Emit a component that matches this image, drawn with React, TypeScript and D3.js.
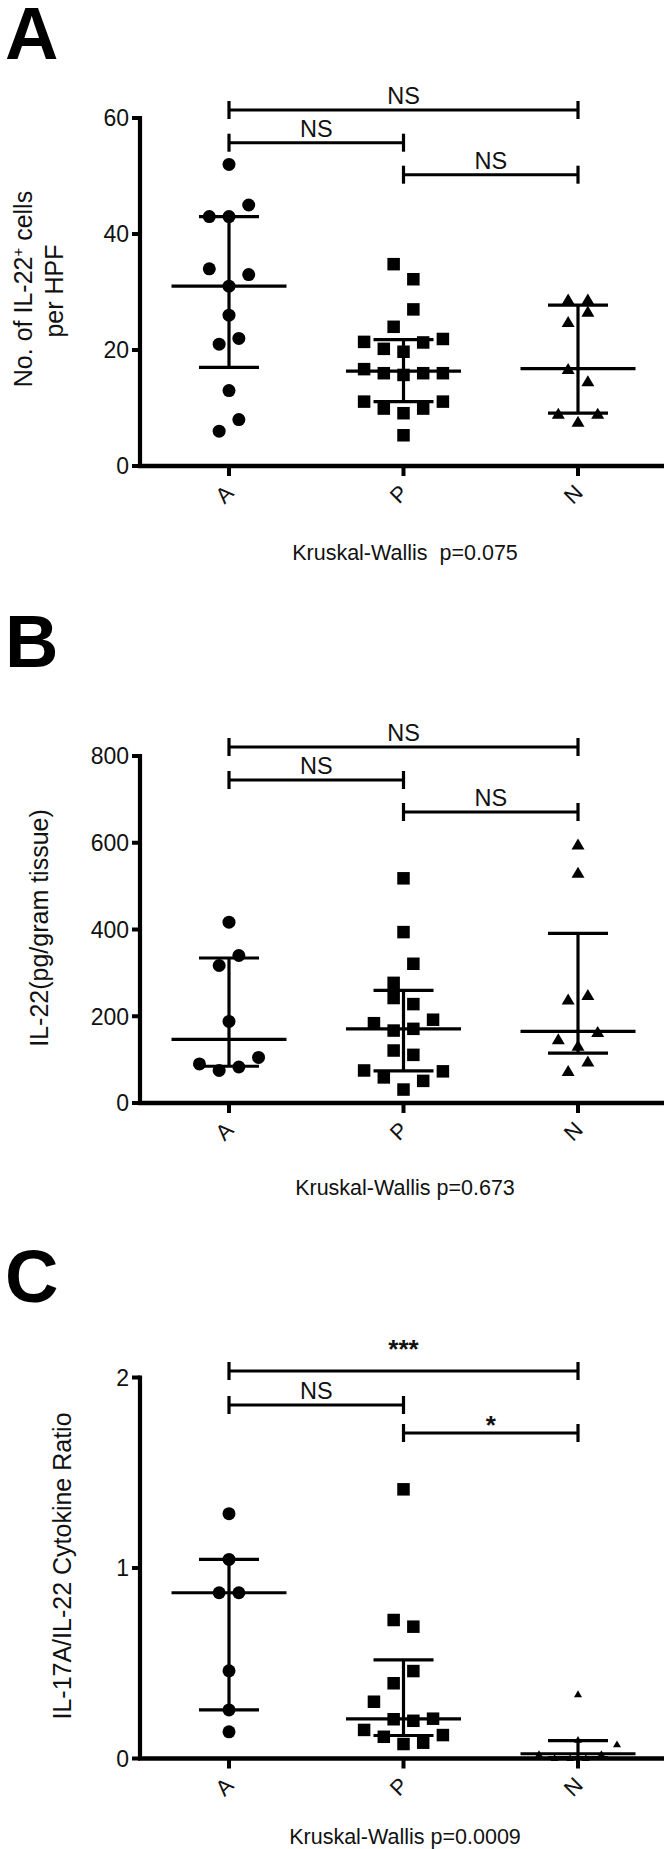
import React from 'react';
import * as d3 from 'd3';

const FONT = '"Liberation Sans", Arial, Helvetica, sans-serif';

const categories = ['A', 'P', 'N'];

// ---------- Panel A : No. of IL-22+ cells per HPF ----------
const aTicks = [0, 20, 40, 60];
const aValuesA = [6, 8, 13, 21, 22, 26, 34, 31, 33, 43, 43, 45, 52];
const aValuesP = [5.3, 11.1, 9.9, 9.1, 9.9, 11.1, 16.7, 16.0, 15.7, 16.0, 16.0, 21.4, 20.2, 19.7, 21.3, 21.9, 24.0, 27.0, 34.8, 32.2];
const aValuesN = [9.1, 7.7, 9.1, 16.8, 14.7, 24.9, 26.7, 28.8, 28.8];
const aComparisons = [
  { from: 'A', to: 'N', label: 'NS' },
  { from: 'A', to: 'P', label: 'NS' },
  { from: 'P', to: 'N', label: 'NS' },
];
const aTest = 'Kruskal-Wallis  p=0.075';

// ---------- Panel B : IL-22 (pg/gram tissue) ----------
const bTicks = [0, 200, 400, 600, 800];
const bValuesA = [90, 75, 83, 105, 188, 317, 340, 417];
const bValuesP = [75, 59, 31, 51, 73, 121, 111, 184, 167, 171, 192, 242, 228, 277, 321, 394, 518];
const bValuesN = [75, 97, 148, 133, 165, 240, 250, 532, 597];
const bComparisons = [
  { from: 'A', to: 'N', label: 'NS' },
  { from: 'A', to: 'P', label: 'NS' },
  { from: 'P', to: 'N', label: 'NS' },
];
const bTest = 'Kruskal-Wallis p=0.673';

// ---------- Panel C : IL-17A/IL-22 ratio ----------
const cTicks = [0, 1, 2];
const cValuesA = [0.14, 0.255, 0.46, 0.87, 0.87, 1.045, 1.285];
const cValuesP = [0.15, 0.114, 0.076, 0.083, 0.123, 0.298, 0.206, 0.198, 0.209, 0.395, 0.459, 0.727, 0.692, 1.413];
const cValuesN = [0.025, 0.005, 0.005, 0.005, 0.025, 0.077, 0.1, 0.34];
const cComparisons = [
  { from: 'A', to: 'N', label: '***' },
  { from: 'A', to: 'P', label: 'NS' },
  { from: 'P', to: 'N', label: '*' },
];
const cTest = 'Kruskal-Wallis p=0.0009';

type Shape = 'circle' | 'square' | 'triangle';
interface Group { cat: string; values: number[]; shape: Shape; size: number; step: number; }

// GraphPad-style percentile: position (n+1)p
function quantileGP(values: number[], p: number) {
  const s = [...values].sort((a, b) => a - b);
  const n = s.length;
  const pos = (n + 1) * p;
  const lo = Math.floor(pos);
  const hi = Math.ceil(pos);
  if (lo < 1) return s[0];
  if (hi > n) return s[n - 1];
  return s[lo - 1] + (pos - lo) * (s[hi - 1] - s[lo - 1]);
}

// Row-based scatter spreading: points within a row (threshold in pixels) are spread horizontally
function swarmOffsets(values: number[], y: (v: number) => number, step: number, thresh: number) {
  const idx = values.map((_, i) => i).sort((a, b) => values[a] - values[b] || a - b);
  const rows: number[][] = [];
  let cur: number[] | null = null;
  let startPx = 0;
  for (const i of idx) {
    const py = y(values[i]);
    if (cur && Math.abs(startPx - py) <= thresh) cur.push(i);
    else {
      cur = [i];
      rows.push(cur);
      startPx = py;
    }
  }
  const offsets = new Array(values.length).fill(0);
  rows.forEach((r) => {
    r.sort((a, b) => a - b);
    r.forEach((i, k) => {
      offsets[i] = (k - (r.length - 1) / 2) * step;
    });
  });
  return offsets;
}

function Marker({ shape, cx, cy, size }: { shape: Shape; cx: number; cy: number; size: number }) {
  if (shape === 'circle') return <circle cx={cx} cy={cy} r={size / 2} fill="#000" />;
  if (shape === 'square') return <rect x={cx - size / 2} y={cy - size / 2} width={size} height={size} fill="#000" />;
  const w = size;
  const h = size * 0.85;
  return <path d={`M${cx},${cy - h / 2}L${cx + w / 2},${cy + h / 2}L${cx - w / 2},${cy + h / 2}Z`} fill="#000" />;
}

interface PanelProps {
  letter: string;
  letterY: number;
  yMax: number;
  yTop: number;
  yBottom: number;
  ticks: number[];
  groups: Group[];
  comparisons: { from: string; to: string; label: string }[];
  bracketYs: number[];
  title: React.ReactNode;
  testText: string;
  testY: number;
}

const AXIS_X = 140;
const AXIS_RIGHT = 664;

function Panel(p: PanelProps) {
  const x = d3.scalePoint<string>().domain(categories).range([229, 578]);
  const y = d3.scaleLinear().domain([0, p.yMax]).range([p.yBottom, p.yTop]);
  const lw = 3.2;
  return (
    <g>
      <text x={5} y={p.letterY} fontFamily={FONT} fontWeight="bold" fontSize={74} fill="#000">
        {p.letter}
      </text>
      {p.title}
      {/* y axis */}
      <line x1={AXIS_X} x2={AXIS_X} y1={p.yTop - 2} y2={p.yBottom} stroke="#000" strokeWidth={4.2} />
      {p.ticks.map((t) => (
        <g key={t}>
          <line x1={AXIS_X - 8} x2={AXIS_X} y1={y(t)} y2={y(t)} stroke="#000" strokeWidth={4} />
          <text x={129} y={y(t)} dy="0.36em" textAnchor="end" fontFamily={FONT} fontSize={23} fill="#111">
            {t}
          </text>
        </g>
      ))}
      {/* x axis */}
      <line x1={AXIS_X - 2} x2={AXIS_RIGHT} y1={p.yBottom} y2={p.yBottom} stroke="#000" strokeWidth={4.5} />
      {categories.map((c) => (
        <g key={c}>
          <line x1={x(c)!} x2={x(c)!} y1={p.yBottom} y2={p.yBottom + 10} stroke="#000" strokeWidth={4} />
          <text
            transform={`translate(${x(c)! - 5},${p.yBottom + 28}) rotate(-45)`}
            textAnchor="middle"
            dy="0.36em"
            fontFamily={FONT}
            fontSize={22}
            fill="#111"
          >
            {c}
          </text>
        </g>
      ))}
      {/* points and median/IQR bars */}
      {p.groups.map((g) => {
        const cx = x(g.cat)!;
        const offs = swarmOffsets(g.values, y, g.step, g.step * 1.04);
        const med = quantileGP(g.values, 0.5);
        const q1 = quantileGP(g.values, 0.25);
        const q3 = quantileGP(g.values, 0.75);
        return (
          <g key={g.cat}>
            {g.values.map((v, i) => (
              <Marker key={i} shape={g.shape} cx={cx + offs[i]} cy={y(v)} size={g.size} />
            ))}
            <line x1={cx} x2={cx} y1={y(q1)} y2={y(q3)} stroke="#000" strokeWidth={lw} />
            <line x1={cx - 57.5} x2={cx + 57.5} y1={y(med)} y2={y(med)} stroke="#000" strokeWidth={lw} />
            <line x1={cx - 30} x2={cx + 30} y1={y(q1)} y2={y(q1)} stroke="#000" strokeWidth={lw} />
            <line x1={cx - 30} x2={cx + 30} y1={y(q3)} y2={y(q3)} stroke="#000" strokeWidth={lw} />
          </g>
        );
      })}
      {/* significance brackets */}
      {p.comparisons.map((c, i) => {
        const by = p.bracketYs[i];
        const x1 = x(c.from)!;
        const x2 = x(c.to)!;
        const isStar = c.label.includes('*');
        const ly = isStar ? (c.label.length > 1 ? by - 13 : by + 1) : by - 6;
        return (
          <g key={i}>
            <line x1={x1} x2={x2} y1={by} y2={by} stroke="#000" strokeWidth={3} />
            <line x1={x1} x2={x1} y1={by - 9} y2={by + 9} stroke="#000" strokeWidth={3.2} />
            <line x1={x2} x2={x2} y1={by - 9} y2={by + 9} stroke="#000" strokeWidth={3.2} />
            <text
              x={(x1 + x2) / 2}
              y={ly}
              textAnchor="middle"
              fontFamily={FONT}
              fontSize={isStar ? 26 : 23.5}
              fontWeight={isStar ? 'bold' : 'normal'}
              fill="#111"
            >
              {c.label}
            </text>
          </g>
        );
      })}
      <text
        x={405}
        y={p.testY}
        dy="0.36em"
        textAnchor="middle"
        fontFamily={FONT}
        fontSize={21.5}
        fill="#111"
        style={{ whiteSpace: 'pre' }}
      >
        {p.testText}
      </text>
    </g>
  );
}

const STEP = 19.7;

export default function App() {
  const titleA = (
    <g fontFamily={FONT} fontSize={25} fill="#111">
      <text transform="translate(32,289) rotate(-90)" textAnchor="middle">
        No. of IL-22<tspan dy="-9" fontSize={15}>+</tspan>
        <tspan dy="9"> cells</tspan>
      </text>
      <text transform="translate(63,291) rotate(-90)" textAnchor="middle">
        per HPF
      </text>
    </g>
  );
  const titleB = (
    <text transform="translate(48,928) rotate(-90)" textAnchor="middle" fontFamily={FONT} fontSize={25} fill="#111">
      IL-22(pg/gram tissue)
    </text>
  );
  const titleC = (
    <text transform="translate(71,1566) rotate(-90)" textAnchor="middle" fontFamily={FONT} fontSize={25} fill="#111">
      IL-17A/IL-22 Cytokine Ratio
    </text>
  );
  return (
    <div style={{ position: 'absolute', left: 0, top: 0, background: '#fff' }}>
      <svg width={672} height={1849} viewBox="0 0 672 1849" style={{ display: 'block' }}>
        <rect width={672} height={1849} fill="#fff" />
        <Panel
          letter="A"
          letterY={59}
          yMax={60}
          yTop={118}
          yBottom={466}
          ticks={aTicks}
          groups={[
            { cat: 'A', values: aValuesA, shape: 'circle', size: 13, step: STEP },
            { cat: 'P', values: aValuesP, shape: 'square', size: 12.5, step: STEP },
            { cat: 'N', values: aValuesN, shape: 'triangle', size: 13, step: STEP },
          ]}
          comparisons={aComparisons}
          bracketYs={[110, 142.7, 174.7]}
          title={titleA}
          testText={aTest}
          testY={552}
        />
        <Panel
          letter="B"
          letterY={667}
          yMax={800}
          yTop={756}
          yBottom={1103}
          ticks={bTicks}
          groups={[
            { cat: 'A', values: bValuesA, shape: 'circle', size: 13, step: STEP },
            { cat: 'P', values: bValuesP, shape: 'square', size: 12.5, step: STEP },
            { cat: 'N', values: bValuesN, shape: 'triangle', size: 13, step: STEP },
          ]}
          comparisons={bComparisons}
          bracketYs={[747, 780, 812]}
          title={titleB}
          testText={bTest}
          testY={1187}
        />
        <Panel
          letter="C"
          letterY={1302}
          yMax={2}
          yTop={1377.5}
          yBottom={1758.5}
          ticks={cTicks}
          groups={[
            { cat: 'A', values: cValuesA, shape: 'circle', size: 13, step: STEP },
            { cat: 'P', values: cValuesP, shape: 'square', size: 12.5, step: STEP },
            { cat: 'N', values: cValuesN, shape: 'triangle', size: 8, step: 15.6 },
          ]}
          comparisons={cComparisons}
          bracketYs={[1371, 1405, 1433]}
          title={titleC}
          testText={cTest}
          testY={1836}
        />
      </svg>
    </div>
  );
}
